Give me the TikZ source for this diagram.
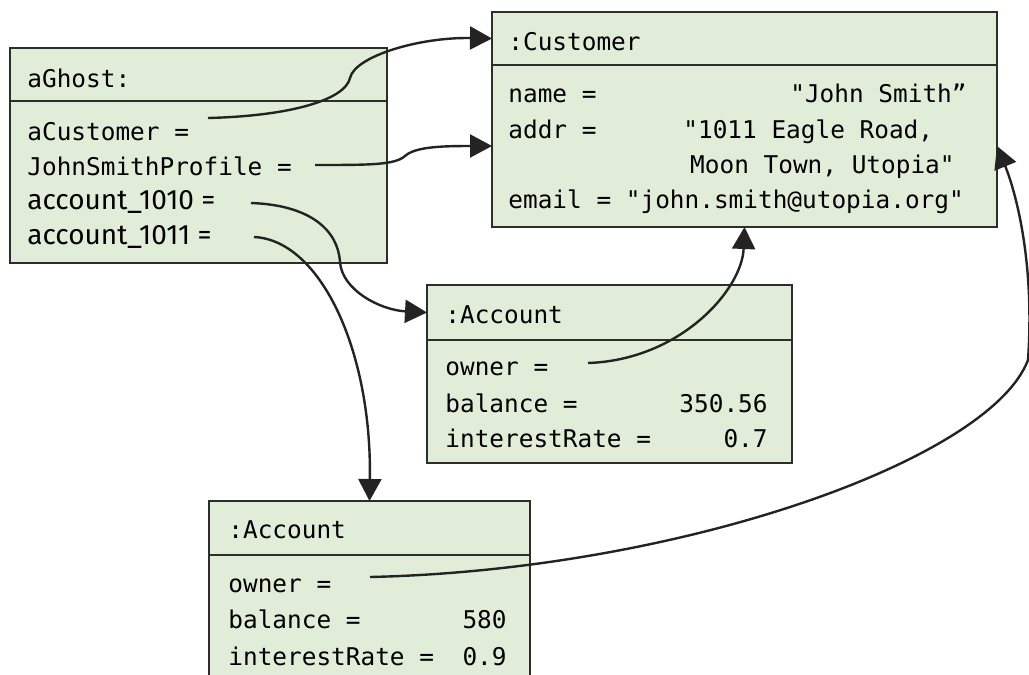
\documentclass[tikz,border=0pt]{standalone}
\usepackage{fontspec}
\setmonofont{DejaVu Sans Mono}
\newfontfamily\labelsans{Fira Sans}
\usetikzlibrary{arrows.meta, positioning}
\definecolor{objfill}{RGB}{226,237,217}
\definecolor{objline}{RGB}{45,45,45}
\definecolor{reflink}{RGB}{35,35,35}

\begin{document}
\begin{tikzpicture}[
  x=0.5pt, y=-0.5pt,
  node distance=0pt,
  headbox/.style={
    rectangle, draw=objline, fill=objfill, line width=1pt,
    inner sep=0pt, outer sep=0pt, minimum height=26.5pt
  },
  bodybox/.style={
    rectangle, draw=objline, fill=objfill, line width=1pt,
    inner sep=0pt, outer sep=0pt
  },
  attr/.style={anchor=base west, inner sep=0pt,
    font=\fontsize{12.2}{14}\selectfont\ttfamily},
  val/.style={anchor=base east, inner sep=0pt,
    font=\fontsize{12.2}{14}\selectfont\ttfamily},
  propattr/.style={anchor=base west, inner sep=0pt,
    font=\fontsize{14}{16}\selectfont\labelsans},
  ref/.style={-{Triangle[length=11pt, width=11.5pt]}, line width=1.2pt, draw=reflink}
]

\clip (0,0) rectangle (1029,675);

% ── aGhost ──
\node[headbox, anchor=north west, minimum width=188.5pt] (ghosthead) at (10,48) {};
\node[bodybox, below=of ghosthead, minimum width=188.5pt, minimum height=81pt] (ghostbody) {};
\node[attr] (ghosttitle) at (27,87) {aGhost:};
\node[attr] (ghostcust) at (27,140) {aCustomer =};
\node[attr] (ghostjsp) at (27,175) {JohnSmithProfile =};
\node[propattr] (ghostacc1) at (27,209) {account\_1010 =};
\node[propattr] (ghostacc2) at (27,244) {account\_1011 =};

% ── :Customer ──
\node[headbox, anchor=north west, minimum width=252.5pt] (custhead) at (492,12) {};
\node[bodybox, below=of custhead, minimum width=252.5pt, minimum height=81pt] (custbody) {};
\node[attr] (custtitle) at (508,50) {:Customer};
\node[attr] (custname) at (508,102) {name =};
\node[val] (custnameval) at (967,102) {"John Smith”};
\node[attr] (custaddr) at (508,138) {addr =};
\node[attr] (custaddrval) at (683,138) {"1011 Eagle Road,};
\node[val] (custaddrval2) at (955,173) {Moon Town, Utopia"};
\node[attr] (custemail) at (508,208) {email = "john.smith@utopia.org"};

% ── :Account (350.56) ──
\node[headbox, anchor=north west, minimum width=182.5pt, minimum height=27.5pt] (acconehead) at (427,285) {};
\node[bodybox, below=of acconehead, minimum width=182.5pt, minimum height=61.5pt] (acconebody) {};
\node[attr] (acconetitle) at (445,323) {:Account};
\node[attr] (acconeowner) at (445,375) {owner =};
\node[attr] (acconebal) at (445,412) {balance =};
\node[val] (acconebalval) at (768,412) {350.56};
\node[attr] (acconerate) at (445,447) {interestRate =};
\node[val] (acconerateval) at (768,447) {0.7};

% ── :Account (580) ──
\node[headbox, anchor=north west, minimum width=160.5pt, minimum height=27pt] (acctwohead) at (209,501) {};
\node[bodybox, below=of acctwohead, minimum width=160.5pt, minimum height=80pt] (acctwobody) {};
\node[attr] (acctwotitle) at (228,538) {:Account};
\node[attr] (acctwoowner) at (228,592) {owner =};
\node[attr] (acctwobal) at (228,628) {balance =};
\node[val] (acctwobalval) at (507,628) {580};
\node[attr] (acctworate) at (228,665) {interestRate =};
\node[val] (acctworateval) at (507,665) {0.9};

% ── reference start points ──
\coordinate (fromcust) at (208,118);
\coordinate (fromjsp) at (315,165);
\coordinate (fromacc1) at (251,203);
\coordinate (fromacc2) at (254,237);
\coordinate (fromownone) at (588,363);
\coordinate (fromowntwo) at (370,577);

% ── aGhost references ──
\draw[ref] (fromcust) .. controls (290,116) and (345,100) .. (350,78)
  .. controls (355,56) and (420,37) .. (custhead.west);
\draw[ref] (fromjsp) .. controls (370,165) and (395,165) .. (405,156)
  .. controls (415,147) and (440,146) .. (custbody.west);
\draw[ref] (fromacc1) .. controls (310,205) and (338,230) .. (340,262)
  .. controls (342,290) and (380,310) .. (acconehead.west);
\draw[ref] (fromacc2) .. controls (320,240) and (372,350) .. (acctwohead.north);

% ── owner references ──
\draw[ref] (fromownone) .. controls (680,360) and (742,290) .. (custbody.south);
\draw[ref] (fromowntwo) .. controls (680,570) and (990,460) .. (1028,360)
  .. controls (1035,260) and (1015,190) .. (custbody.east);

\end{tikzpicture}
\end{document}
